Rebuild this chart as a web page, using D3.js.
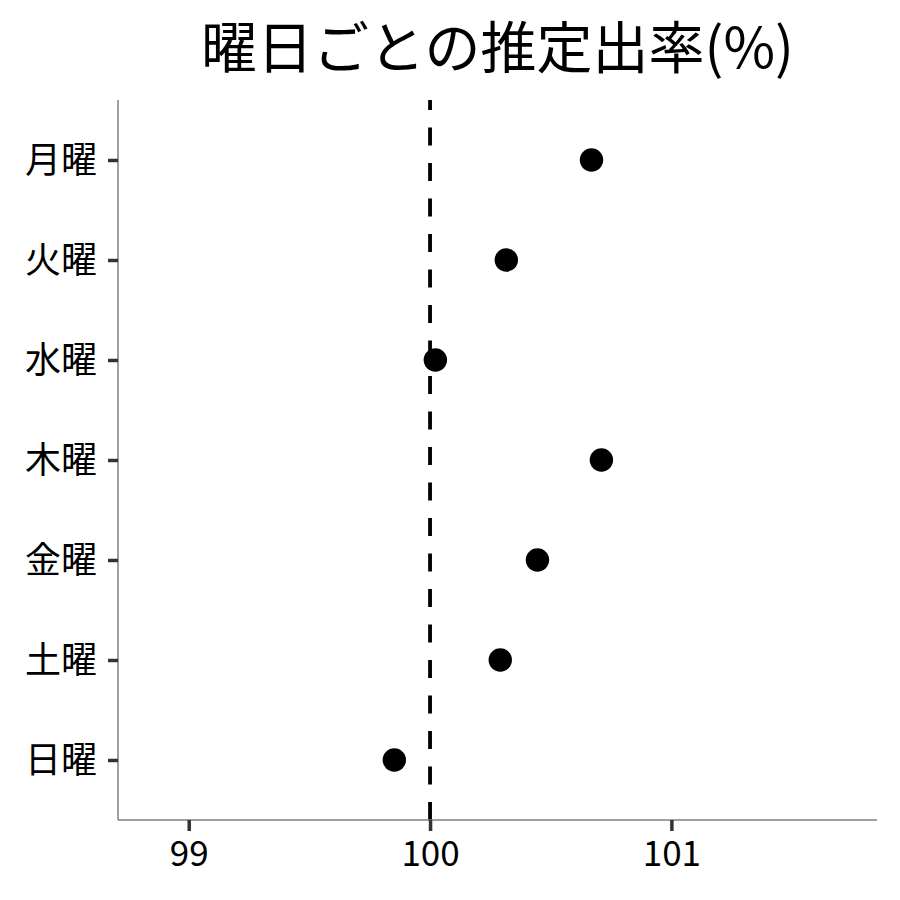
<!DOCTYPE html>
<html>
<head>
<meta charset="utf-8">
<script src="https://cdn.jsdelivr.net/npm/d3@7"></script>
<style>
html,body{margin:0;padding:0;background:#fff;}
svg{display:block;font-family:"Noto Sans CJK JP","Noto Sans",sans-serif;}
</style>
</head>
<body>
<svg id="chart" width="900" height="900"></svg>
<script>
const titleText = "曜日ごとの推定出率(%)";
const days = ["月曜","火曜","水曜","木曜","金曜","土曜","日曜"];
const rates = [100.669, 100.316, 100.022, 100.710, 100.445, 100.291, 99.852];
const xTicks = [99, 100, 101];
const xDomain = [98.707, 101.852];
const refValue = 100;

(function(){
const svg = d3.select("#chart");
const pLeft = 118, pRight = 877, pTop = 100, pBottom = 820;

const x = d3.scaleLinear().domain(xDomain).range([pLeft, pRight]);
const y = d3.scalePoint().domain(days).range([pTop, pBottom]).padding(0.6);

// title
svg.append("text")
  .attr("x", (pLeft + pRight) / 2)
  .attr("y", 43)
  .attr("text-anchor", "middle")
  .attr("dominant-baseline", "central")
  .attr("font-size", 56)
  .attr("fill", "#000")
  .text(titleText);

// reference line (drawn from bottom up)
svg.append("line")
  .attr("x1", x(refValue)).attr("x2", x(refValue))
  .attr("y1", pBottom).attr("y2", pTop)
  .attr("stroke", "#000")
  .attr("stroke-width", 3.8)
  .attr("stroke-dasharray", "18,17.5");

// x axis
const xAxis = svg.append("g")
  .attr("transform", `translate(0,${pBottom})`)
  .call(d3.axisBottom(x).tickValues(xTicks).tickSize(11).tickPadding(10).tickFormat(d3.format("d")));
xAxis.select(".domain").attr("stroke", "#808080").attr("stroke-width", 1.5).attr("d", `M${pLeft},0H${pRight}`);
xAxis.selectAll(".tick line").attr("stroke", "#333").attr("stroke-width", 3.5);
xAxis.selectAll(".tick text").attr("font-size", 35).attr("fill", "#000").attr("font-family", '"Noto Sans CJK JP",sans-serif');

// y axis
const yAxis = svg.append("g")
  .attr("transform", `translate(${pLeft},0)`)
  .call(d3.axisLeft(y).tickSize(10).tickPadding(11));
yAxis.select(".domain").attr("stroke", "#808080").attr("stroke-width", 1.5).attr("d", `M0,${pTop}V${pBottom}`);
yAxis.selectAll(".tick line").attr("stroke", "#333").attr("stroke-width", 3.5);
yAxis.selectAll(".tick text").attr("font-size", 36).attr("fill", "#000").attr("dy", "0.35em").attr("font-family", '"Noto Sans CJK JP",sans-serif');

// points
svg.append("g").selectAll("circle")
  .data(days.map((d, i) => ({day: d, v: rates[i]})))
  .join("circle")
  .attr("cx", d => x(d.v))
  .attr("cy", d => y(d.day))
  .attr("r", 11.7)
  .attr("fill", "#000");
})();
</script>
</body>
</html>
